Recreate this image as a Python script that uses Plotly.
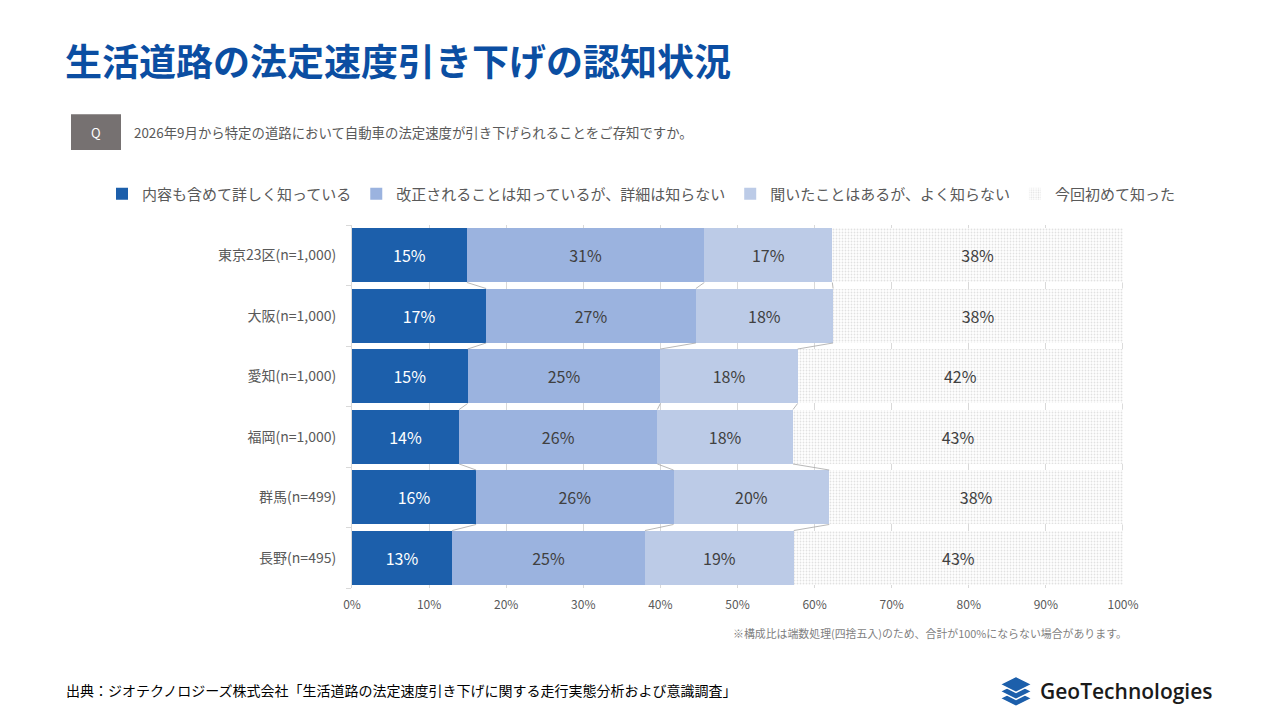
import plotly.graph_objects as go

# 回答データ (%)
regions = ["東京23区(n=1,000)", "大阪(n=1,000)", "愛知(n=1,000)",
           "福岡(n=1,000)", "群馬(n=499)", "長野(n=495)"]
detail_known = [14.9, 17.4, 15.0, 13.9, 16.1, 13.0]
change_known = [30.8, 27.2, 25.0, 25.7, 25.6, 25.0]
heard_only = [16.6, 17.8, 17.8, 17.6, 20.2, 19.3]
first_time = [37.7, 37.6, 42.2, 42.8, 38.1, 42.7]

series_names = ["内容も含めて詳しく知っている", "改正されることは知っているが、詳細は知らない",
                "聞いたことはあるが、よく知らない", "今回初めて知った"]
x_ticks = [0, 10, 20, 30, 40, 50, 60, 70, 80, 90, 100]

FONT = "Noto Sans CJK JP"
W, H = 1282, 720
OFF = 8  # page body margin
# plot area in page pixels
L, R, T, B = 352, 1123, 225, 588.5


def px(x):
    return (x - L) / (R - L)


def py(y):
    return (B - y) / (B - T)


ypos = list(range(len(regions)))
bar_w = 0.9

fig = go.Figure()

colors = ["#1c5fab", "#9bb3df", "#bccbe7", "white"]
text_colors = ["white", "#404040", "#404040", "#404040"]
all_series = [detail_known, change_known, heard_only, first_time]

for name, vals, col, tcol in zip(series_names, all_series, colors, text_colors):
    marker = dict(color=col, line=dict(width=0))
    if name == "今回初めて知った":
        marker["pattern"] = dict(shape=".", size=3, solidity=0.3,
                                 fgcolor="#c4c4c4", fillmode="overlay")
    fig.add_trace(go.Bar(
        y=ypos, x=vals, name=name, orientation="h", width=bar_w,
        marker=marker,
        texttemplate="%{x:.0f}%", textposition="inside",
        insidetextanchor="middle",
        textfont=dict(family=FONT, size=16, color=tcol),
        hoverinfo="skip",
    ))

# 区分線 (series lines)
cum = [0.0] * len(regions)
for vals in all_series:
    cum = [c + v for c, v in zip(cum, vals)]
    lx, ly = [], []
    for i in range(len(regions) - 1):
        lx += [cum[i], cum[i + 1], None]
        ly += [i + bar_w / 2, i + 1 - bar_w / 2, None]
    fig.add_trace(go.Scatter(x=lx, y=ly, mode="lines",
                             line=dict(color="#a6a6a6", width=0.8),
                             showlegend=False, hoverinfo="skip"))

fig.update_layout(
    width=W, height=H,
    barmode="stack",
    plot_bgcolor="white", paper_bgcolor="white",
    margin=dict(l=L - OFF, r=W - (R - OFF), t=T - OFF, b=H - (B - OFF)),
    font=dict(family=FONT, color="#595959"),
    showlegend=True,
    legend=dict(orientation="h", x=px(102), y=py(194), xanchor="left",
                yanchor="middle", font=dict(family=FONT, size=15, color="#595959"),
                itemwidth=30, traceorder="normal"),
)

fig.update_xaxes(range=[0, 100], tickvals=x_ticks,
                 ticktext=[f"{v}%" for v in x_ticks],
                 showgrid=True, gridcolor="#d9d9d9", gridwidth=1,
                 zeroline=False, showline=False,
                 tickfont=dict(family=FONT, size=12, color="#595959"),
                 ticks="", ticklabelstandoff=8)

fig.update_yaxes(range=[len(regions) - 0.5, -0.5], tickvals=ypos, ticktext=regions,
                 showgrid=False, zeroline=False,
                 showline=True, linecolor="#d9d9d9", linewidth=1,
                 ticks="", ticklabelstandoff=12,
                 minor=dict(tickvals=[i - 0.5 for i in range(len(regions) + 1)],
                            ticks="outside", ticklen=5, tickcolor="#d9d9d9"),
                 tickfont=dict(family=FONT, size=14, color="#595959"))

# タイトル
fig.add_annotation(text="<b>生活道路の法定速度引き下げの認知状況</b>",
                   xref="paper", yref="paper", x=px(63), y=py(60),
                   xanchor="left", yanchor="middle", showarrow=False,
                   font=dict(family=FONT, size=37, color="#0b4ea2"))

# 設問
fig.add_shape(type="rect", xref="paper", yref="paper",
              x0=px(71), x1=px(121), y0=py(114), y1=py(150),
              fillcolor="#767171", line=dict(width=0))
fig.add_annotation(text="Q", xref="paper", yref="paper", x=px(96), y=py(132),
                   showarrow=False, xanchor="center", yanchor="middle",
                   font=dict(family=FONT, size=13, color="white"))
fig.add_annotation(text="2026年9月から特定の道路において自動車の法定速度が引き下げられることをご存知ですか。",
                   xref="paper", yref="paper", x=px(132), y=py(132),
                   showarrow=False, xanchor="left", yanchor="middle",
                   font=dict(family=FONT, size=13.4, color="#595959"))

# 注記
fig.add_annotation(text="※構成比は端数処理(四捨五入)のため、合計が100%にならない場合があります。",
                   xref="paper", yref="paper", x=px(1129), y=py(634),
                   showarrow=False, xanchor="right", yanchor="middle",
                   font=dict(family=FONT, size=10.9, color="#7f7f7f"))

# 出典
fig.add_annotation(text="出典：ジオテクノロジーズ株式会社「生活道路の法定速度引き下げに関する走行実態分析および意識調査」",
                   xref="paper", yref="paper", x=px(64), y=py(691),
                   showarrow=False, xanchor="left", yanchor="middle",
                   font=dict(family=FONT, size=14, color="#000000"))

# ロゴ
for cy in [699, 692, 685]:
    fig.add_shape(type="path", xref="paper", yref="paper",
                  path=(f"M {px(1000)},{py(cy)} L {px(1016)},{py(cy - 8)} "
                        f"L {px(1032)},{py(cy)} L {px(1016)},{py(cy + 8)} Z"),
                  fillcolor="#1c5fab", line=dict(color="white", width=1.5))
fig.add_annotation(text="GeoTechnologies", xref="paper", yref="paper",
                   x=px(1038), y=py(692), showarrow=False,
                   xanchor="left", yanchor="middle",
                   font=dict(family="Open Sans", size=21, color="#1a1a1a", weight=600))

fig.write_html("out.html")
